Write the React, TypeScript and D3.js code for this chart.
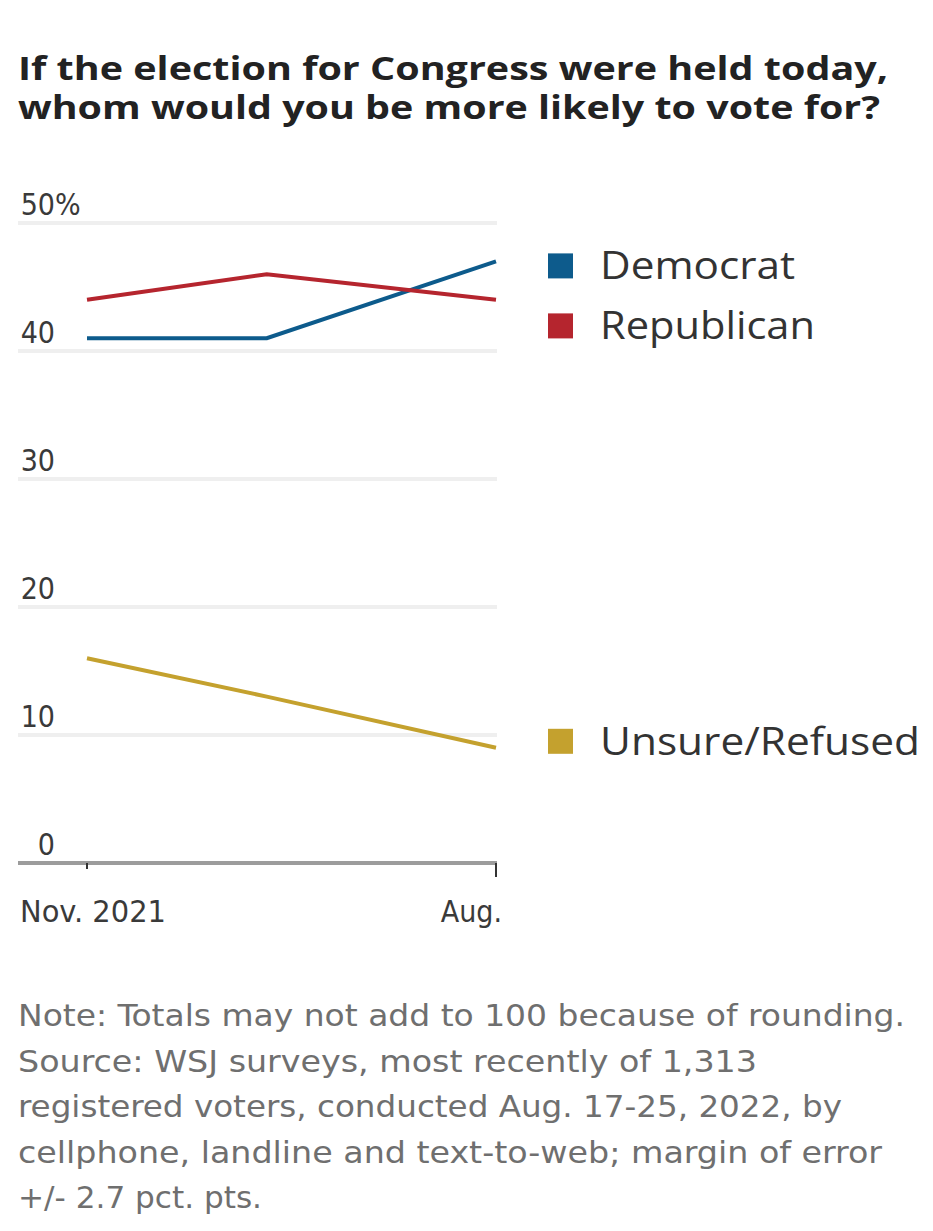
import React from "react";
import * as d3 from "d3";

const surveyDates = ["2021-11", "2022-03", "2022-08"];
const democrat = [41, 41, 47];
const republican = [44, 46, 44];
const unsure = [16, 13, 9];
const yTicks = [0, 10, 20, 30, 40, 50];
const xTickDates = ["2021-11", "2022-08"];
const xTickLabels = ["Nov. 2021", "Aug."];
const seriesNames = ["Democrat", "Republican", "Unsure/Refused"];
const titleLines = [
  "If the election for Congress were held today,",
  "whom would you be more likely to vote for?",
];
const noteLines = [
  "Note: Totals may not add to 100 because of rounding.",
  "Source: WSJ surveys, most recently of 1,313",
  "registered voters, conducted Aug. 17-25, 2022, by",
  "cellphone, landline and text-to-web; margin of error",
  "+/- 2.7 pct. pts.",
];

const W = 933;
const H = 1231;
const parse = d3.timeParse("%Y-%m");
const colors = ["#0d5b8c", "#b5252e", "#c4a12e"];
const TITLE_W = [870, 862];
const NOTE_W = [887, 739, 824, 864, 244];
const LEGEND_W = [195, 215, 320];

export default function App() {
  const x = d3
    .scaleTime()
    .domain([parse(xTickDates[0])!, parse(xTickDates[1])!])
    .range([87, 496]);
  const y = d3.scaleLinear().domain([0, 50]).range([863, 223]);
  const line = d3
    .line<[Date, number]>()
    .x((d) => x(d[0]))
    .y((d) => y(d[1]));
  const dates = surveyDates.map((s) => parse(s)!);
  const series = [democrat, republican, unsure];

  const last = (arr: number[]) => arr[arr.length - 1];
  const demY = y(last(democrat)) + 4;
  const repY = Math.max(y(last(republican)), demY + 60);
  const unsY = y(last(unsure)) - 7;
  const legendY = [demY, repY, unsY];

  const labelFont = "'Liberation Sans Narrow', 'DejaVu Sans Condensed', 'Liberation Sans', sans-serif";
  const legendFont = "'Open Sans', 'Noto Sans', sans-serif";

  return (
    <svg width={W} height={H} style={{ display: "block", margin: "-8px", background: "#fff" }}>
      {titleLines.map((t, i) => (
        <text
          key={i}
          x={18}
          y={80 + i * 39}
          fontFamily="'Open Sans', 'Liberation Sans', Arial, sans-serif"
          fontWeight={700}
          fontSize={32}
          fill="#222"
          textLength={TITLE_W[i]}
          lengthAdjust="spacingAndGlyphs"
        >
          {t}
        </text>
      ))}

      {yTicks
        .filter((t) => t > 0)
        .map((t) => (
          <line key={t} x1={18} x2={497} y1={y(t)} y2={y(t)} stroke="#efefef" strokeWidth={4} />
        ))}
      <line x1={18} x2={497} y1={y(0)} y2={y(0)} stroke="#9c9c9c" strokeWidth={4} />

      {yTicks.map((t) => (
        <g key={t} fontFamily={labelFont} fontSize={30} fill="#3a3a3a">
          <text x={55} y={y(t) - 8} textAnchor="end">
            {t}
          </text>
          {t === 50 && (
            <text x={55} y={y(t) - 8}>
              %
            </text>
          )}
        </g>
      ))}

      {xTickDates.map((s, i) => (
        <line
          key={s}
          x1={x(parse(s)!)}
          x2={x(parse(s)!)}
          y1={y(0)}
          y2={y(0) + (i === 0 ? 6 : 14)}
          stroke="#333"
          strokeWidth={2}
        />
      ))}
      <text x={20} y={922} fontFamily={labelFont} fontSize={30} fill="#3a3a3a" textLength={146} lengthAdjust="spacingAndGlyphs">
        {xTickLabels[0]}
      </text>
      <text x={502} y={922} textAnchor="end" fontFamily={labelFont} fontSize={30} fill="#3a3a3a">
        {xTickLabels[1]}
      </text>

      {series.map((vals, i) => (
        <path
          key={i}
          d={line(dates.map((d, j) => [d, vals[j]] as [Date, number]))!}
          fill="none"
          stroke={colors[i]}
          strokeWidth={4}
        />
      ))}

      {seriesNames.map((n, i) => (
        <g key={n}>
          <rect x={548} y={legendY[i] - 12} width={25} height={25} fill={colors[i]} />
          <text
            x={600}
            y={legendY[i] + 14}
            fontFamily={legendFont}
            fontSize={38}
            fill="#333"
            textLength={LEGEND_W[i]}
            lengthAdjust="spacingAndGlyphs"
          >
            {n}
          </text>
        </g>
      ))}

      {noteLines.map((t, i) => (
        <text
          key={i}
          x={18}
          y={1026 + i * 45.5}
          fontFamily={labelFont}
          fontSize={31}
          fill="#6f6f6f"
          textLength={NOTE_W[i]}
          lengthAdjust="spacingAndGlyphs"
        >
          {t}
        </text>
      ))}
    </svg>
  );
}
